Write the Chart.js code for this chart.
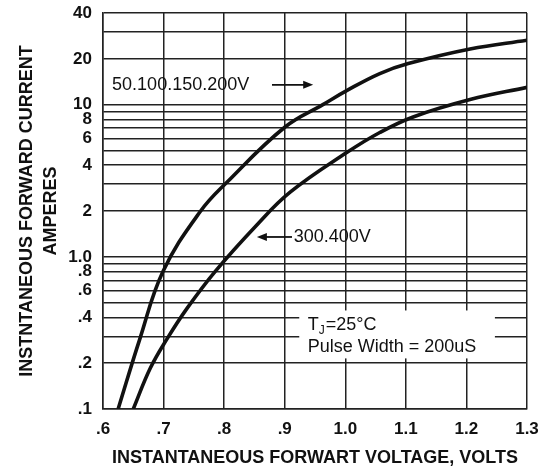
<!DOCTYPE html>
<html lang="en">
<head>
    <meta charset="UTF-8">
    <title>Forward Voltage vs Forward Current</title>
    <script src="https://cdn.jsdelivr.net/npm/chart.js"></script>
    <style>
        body { margin: 0; background: #fff; }
    </style>
</head>
<body>
    <canvas id="fwdChart" width="553" height="475"></canvas>

    <script>
        // Values
        const voltageTicks = [0.6, 0.7, 0.8, 0.9, 1.0, 1.1, 1.2, 1.3];
        const voltageLabels = ['.6', '.7', '.8', '.9', '1.0', '1.1', '1.2', '1.3'];

        const currentGrid = [0.1, 0.2, 0.3, 0.4, 0.5, 0.6, 0.7, 0.8, 0.9,
                             1, 2, 3, 4, 5, 6, 7, 8, 9, 10, 20, 30, 40];
        const currentLabeled = [0.1, 0.2, 0.4, 0.6, 0.8, 1, 2, 4, 6, 8, 10, 20, 40];
        const currentLabels = ['.1', '.2', '.4', '.6', '.8', '1.0', '2', '4', '6', '8', '10', '20', '40'];

        // 50, 100, 150, 200 V parts
        const voltageLow = [0.625, 0.661, 0.699, 0.76, 0.805, 0.9, 0.963, 1.003, 1.057, 1.104, 1.206, 1.3];
        const currentLow = [0.1, 0.29, 0.80, 1.97, 3.1, 7.1, 10.0, 12.4, 16.0, 18.6, 23.2, 26.5];

        // 300, 400 V parts
        const voltageHigh = [0.65, 0.678, 0.706, 0.739, 0.785, 0.854, 0.909, 1.003, 1.057, 1.112, 1.206, 1.3];
        const currentHigh = [0.1, 0.185, 0.29, 0.46, 0.8, 1.62, 2.66, 4.86, 6.56, 8.3, 10.8, 13.0];

        const FONT = "'Liberation Sans', Arial, sans-serif";
        const INK = '#111';
        const GRID = '#222';

        function toPoints(xs, ys) {
            return xs.map((v, i) => ({ x: v, y: ys[i] }));
        }

        function arrow(ctx, x1, y1, x2, y2) {
            // line from (x1,y1) with head at (x2,y2)
            const ang = Math.atan2(y2 - y1, x2 - x1);
            ctx.beginPath();
            ctx.moveTo(x1, y1);
            ctx.lineTo(x2 - 8 * Math.cos(ang), y2 - 8 * Math.sin(ang));
            ctx.lineWidth = 1.8;
            ctx.strokeStyle = INK;
            ctx.stroke();
            ctx.beginPath();
            ctx.moveTo(x2, y2);
            ctx.lineTo(x2 - 10 * Math.cos(ang) + 4 * Math.sin(ang), y2 - 10 * Math.sin(ang) - 4 * Math.cos(ang));
            ctx.lineTo(x2 - 10 * Math.cos(ang) - 4 * Math.sin(ang), y2 - 10 * Math.sin(ang) + 4 * Math.cos(ang));
            ctx.closePath();
            ctx.fillStyle = INK;
            ctx.fill();
        }

        // labels, arrows and the test-condition box
        const notes = {
            id: 'notes',
            beforeDatasetsDraw(chart) {
                const { ctx, scales: { x, y } } = chart;
                const left = x.getPixelForValue(0.924), right = x.getPixelForValue(1.247);
                const top = y.getPixelForValue(0.444), bottom = y.getPixelForValue(0.215);
                ctx.save();
                ctx.fillStyle = '#fff';
                ctx.fillRect(left, top, right - left, bottom - top);
                ctx.restore();
            },
            afterDatasetsDraw(chart) {
                const { ctx, scales: { x, y } } = chart;
                ctx.save();
                ctx.fillStyle = INK;
                ctx.textBaseline = 'middle';
                ctx.textAlign = 'left';
                ctx.font = '18px ' + FONT;

                let py = y.getPixelForValue(13.5);
                ctx.fillText('50.100.150.200V', x.getPixelForValue(0.615), py);
                arrow(ctx, x.getPixelForValue(0.879), py, x.getPixelForValue(0.947), py);

                py = y.getPixelForValue(1.35);
                arrow(ctx, x.getPixelForValue(0.912), py, x.getPixelForValue(0.854), py);
                ctx.fillText('300.400V', x.getPixelForValue(0.915), py);

                // T_J = 25 C
                let px = x.getPixelForValue(0.938);
                py = y.getPixelForValue(0.354);
                ctx.fillText('T', px, py);
                px += ctx.measureText('T').width;
                ctx.font = '12px ' + FONT;
                ctx.fillText('J', px, py + 5);
                px += ctx.measureText('J').width + 1;
                ctx.font = '18px ' + FONT;
                ctx.fillText('=25°C', px, py);

                ctx.fillText('Pulse Width = 200uS', x.getPixelForValue(0.938), y.getPixelForValue(0.254));
                ctx.restore();
            }
        };

        const ctx = document.getElementById('fwdChart').getContext('2d');
        const fwdChart = new Chart(ctx, {
            type: 'scatter',
            data: {
                datasets: [{
                    label: '50.100.150.200V',
                    data: toPoints(voltageLow, currentLow),
                    showLine: true,
                    borderColor: INK,
                    borderWidth: 3.6,
                    pointRadius: 0,
                    tension: 0.4
                }, {
                    label: '300.400V',
                    data: toPoints(voltageHigh, currentHigh),
                    showLine: true,
                    borderColor: INK,
                    borderWidth: 3.6,
                    pointRadius: 0,
                    tension: 0.4
                }]
            },
            options: {
                responsive: false,
                animation: false,
                layout: { padding: { top: 13, right: 26, bottom: 0, left: 0 } },
                plugins: {
                    legend: { display: false },
                    tooltip: { enabled: false }
                },
                scales: {
                    x: {
                        type: 'linear',
                        min: 0.6,
                        max: 1.3,
                        afterBuildTicks: (axis) => {
                            axis.ticks = voltageTicks.map(v => ({ value: v }));
                        },
                        afterFit: (axis) => { axis.height = 66; },
                        ticks: {
                            autoSkip: false,
                            maxRotation: 0,
                            padding: 10,
                            color: INK,
                            font: { family: FONT, size: 17, weight: 'bold' },
                            callback: (v, i) => voltageLabels[i]
                        },
                        grid: { color: GRID, lineWidth: 1.5, drawTicks: false },
                        border: { color: GRID, width: 1.5 },
                        title: {
                            display: true,
                            text: 'INSTANTANEOUS FORWART VOLTAGE, VOLTS',
                            color: INK,
                            font: { family: FONT, size: 18, weight: 'bold' },
                            padding: { top: 0, bottom: 6 }
                        }
                    },
                    y: {
                        type: 'logarithmic',
                        min: 0.1,
                        max: 40,
                        afterBuildTicks: (axis) => {
                            axis.ticks = currentGrid.map(v => ({ value: v }));
                        },
                        afterFit: (axis) => {
                            axis.width = 103;
                            axis.paddingTop = 0;
                            axis.paddingBottom = 0;
                        },
                        ticks: {
                            autoSkip: false,
                            padding: 11,
                            color: INK,
                            font: { family: FONT, size: 17, weight: 'bold' },
                            callback: (v) => {
                                const k = currentLabeled.indexOf(v);
                                return k >= 0 ? currentLabels[k] : '';
                            }
                        },
                        grid: { color: GRID, lineWidth: 1.6, drawTicks: false },
                        border: { color: GRID, width: 1.5 },
                        title: {
                            display: true,
                            text: ['INSTNTANEOUS FORWARD CURRENT', 'AMPERES'],
                            color: INK,
                            font: { family: FONT, size: 18, weight: 'bold', lineHeight: 1.28 },
                            padding: { top: 16, bottom: 0 }
                        }
                    }
                }
            },
            plugins: [notes]
        });
    </script>
</body>
</html>
